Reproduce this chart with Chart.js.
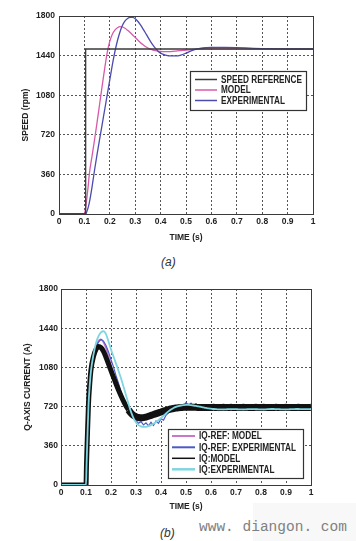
<!DOCTYPE html>
<html><head><meta charset="utf-8">
<script src="https://cdn.jsdelivr.net/npm/chart.js@4.4.1/dist/chart.umd.min.js"></script>
<style>
html,body{margin:0;padding:0;background:#fff;width:356px;height:541px;overflow:hidden;position:relative;}
#wrapA{position:absolute;left:0;top:0;width:356px;height:250px;}
#wrapB{position:absolute;left:0;top:265px;width:356px;height:250px;}
.cap{position:absolute;font-family:'Liberation Sans',Arial,sans-serif;font-style:italic;font-size:12px;color:#333;line-height:12px;}
#wmbg{position:absolute;left:253px;top:503px;width:103px;height:38px;background:#f8f8f8;}
#wm{position:absolute;left:199px;top:520px;font-family:'Liberation Mono','DejaVu Sans Mono',monospace;font-size:14.5px;color:#808080;line-height:15px;white-space:nowrap;}
</style></head>
<body>
<div id="wrapA"><canvas id="cA" width="356" height="250"></canvas></div>
<div class="cap" style="left:161px;top:256px;">(a)</div>
<div id="wmbg"></div>
<div id="wrapB"><canvas id="cB" width="356" height="250"></canvas></div>
<div class="cap" style="left:160px;top:527px;">(b)</div>
<div id="wm">www. diangon. com</div>
<script>
// ---------- DATA ----------
const xTickLabels = ['0','0.1','0.2','0.3','0.4','0.5','0.6','0.7','0.8','0.9','1'];
const yTickLabels = ['0','360','720','1080','1440','1800'];

// (a) speed
const tRef = [0, 0.105, 0.105, 1];
const speedRef = [0, 0, 1500, 1500];
const tSpeed = [0,0.1,0.105,0.11,0.115,
  0.12,0.13,0.14,0.15,0.16,0.17,0.18,0.19,0.2,0.21,0.22,0.23,0.24,0.25,0.26,0.27,0.28,0.29,0.3,0.31,0.32,0.33,0.34,0.35,0.36,0.37,0.38,0.39,0.4,
  0.42,0.44,0.46,0.48,0.5,0.52,0.54,0.56,0.58,0.6,
  0.65,0.7,0.75,0.8,0.85,0.9,0.95,1.0];
const speedModel = [0,0,60,150,255,
  375,525,675,835,1000,1165,1325,1470,1570,1635,1672,1693,1703,1700,1688,1670,1650,1628,1605,1582,1560,1540,1522,1508,1498,1490,1485,1481,1478,
  1476,1477,1481,1486,1491,1495,1498,1500,1501,1502,
  1502,1501,1500,1500,1500,1500,1500,1500];
const speedExp = [0,0,0,25,60,
  110,245,400,545,680,815,950,1085,1220,1355,1475,1575,1655,1715,1755,1778,1788,1787,1775,1752,1722,1686,1648,1608,1570,1535,1505,1480,1462,
  1445,1437,1437,1445,1462,1482,1498,1508,1512,1514,
  1514,1512,1508,1504,1502,1500,1500,1500];

// (b) q-axis current
const tIq = [0,0.1,0.102,0.105,0.11,0.115,
  0.12,0.13,0.14,0.15,0.16,0.17,0.18,0.19,
  0.2,0.21,0.22,0.23,0.24,0.25,0.26,0.27,0.28,0.29,
  0.3,0.31,0.32,0.33,0.34,0.35,0.36,0.37,0.38,0.39,
  0.4,0.41,0.42,0.43,0.44,0.45,0.46,0.47,0.48,0.49,
  0.5,0.51,0.52,0.53,0.54,0.55,0.56,0.57,0.58,0.59,
  0.6,0.61,0.62,0.63,0.64,0.65,0.66,0.67,0.68,0.69,
  0.7,0.71,0.72,0.73,0.74,0.75,0.76,0.77,0.78,0.79,
  0.8,0.81,0.82,0.83,0.84,0.85,0.86,0.87,0.88,0.89,
  0.9,0.91,0.92,0.93,0.94,0.95,0.96,0.97,0.98,0.99,1.0];
const iqRefModel = [0,0,200,420,760,940,
  1075,1200,1278,1325,1335,1310,1255,1180,
  1100,1020,950,885,828,775,728,692,662,641,
  628,620,617,619,624,631,639,647,655,663,
  670,678,685,692,698,703,707,710,712,713,
  714,714,714,713,713,712,712,712,712,712,
  712,713,712,711,712,713,712,712,713,712,
  712,711,712,713,712,712,711,712,713,712,
  712,713,712,711,712,712,713,712,711,712,
  713,712,712,711,712,713,712,712,711,712,713];
const iqRefExp = [0,0,150,370,700,900,
  1040,1185,1268,1312,1338,1322,1282,1222,
  1150,1085,1005,935,858,795,735,690,642,612,
  590,568,582,552,571,543,576,548,588,566,
  608,596,640,662,692,703,722,713,737,724,
  758,728,752,722,747,718,736,708,716,699,
  711,694,702,684,696,688,701,686,698,689,
  699,686,696,689,701,686,697,690,699,686,
  696,689,699,686,697,690,701,686,696,689,
  699,686,697,690,698,686,696,689,699,687,696];
const iqModel = [0,0,190,410,750,930,
  1060,1180,1245,1272,1262,1228,1172,1112,
  1050,990,930,873,820,770,725,690,660,640,
  628,620,617,619,624,631,639,647,655,663,
  670,678,685,692,698,703,707,710,712,713,
  714,714,714,713,713,712,712,712,712,712,
  712,713,712,711,712,713,712,712,713,712,
  712,711,712,713,712,712,711,712,713,712,
  712,713,712,711,712,712,713,712,711,712,
  713,712,712,711,712,713,712,712,711,712,713];
const iqExp = [0,0,170,390,730,920,
  1050,1200,1305,1368,1402,1412,1385,1318,
  1245,1180,1115,1050,980,905,825,745,672,615,
  575,550,538,533,534,540,550,563,578,596,
  615,636,657,676,693,707,717,725,730,733,
  735,735,733,730,726,722,717,712,708,704,
  701,698,696,695,694,694,695,696,697,697,
  696,695,694,694,695,696,697,697,696,695,
  694,694,695,697,698,698,697,696,695,694,
  694,695,696,697,698,698,697,696,696,697,698];

// ---------- HELPERS ----------
const FONT = "'Liberation Sans',Arial,sans-serif";
function xy(ts, vs){ return ts.map((t,i)=>({x:t, y:vs[i]})); }

const framePlugin = {
  id:'frame',
  afterDraw(chart){
    const {ctx, chartArea:a} = chart;
    ctx.save();
    ctx.strokeStyle = '#3a3a3a'; ctx.lineWidth = 1;
    ctx.strokeRect(Math.round(a.left)+0.5, Math.round(a.top)+0.5, Math.round(a.right-a.left), Math.round(a.bottom-a.top));
    ctx.restore();
  }
};
const boxLegend = {
  id:'boxLegend',
  afterDraw(chart, args, o){
    const ctx = chart.ctx;
    ctx.save();
    ctx.fillStyle = '#fff';
    ctx.fillRect(o.x, o.y, o.w, o.h);
    ctx.strokeStyle = '#333'; ctx.lineWidth = 1.2;
    ctx.strokeRect(o.x+0.5, o.y+0.5, o.w, o.h);
    ctx.font = o.font; ctx.textBaseline = 'middle'; ctx.textAlign = 'left';
    const k = Math.min(1, o.refWidth / ctx.measureText(o.refText).width);
    chart.data.datasets.forEach((ds,i)=>{
      const y = o.rows[i];
      ctx.strokeStyle = ds.borderColor; ctx.lineWidth = o.lw[i];
      ctx.beginPath(); ctx.moveTo(o.lx0, y); ctx.lineTo(o.lx1, y); ctx.stroke();
      ctx.save();
      ctx.translate(o.tx, y + 0.5); ctx.scale(k, 1);
      ctx.fillStyle = '#222';
      ctx.fillText(ds.label, 0, 0);
      ctx.restore();
    });
    ctx.restore();
  }
};

function makeOptions(L){
  return {
    responsive:false, animation:false,
    layout:{padding:{left:L.padLeft, right:L.padRight, top:L.padTop, bottom:0}},
    plugins:{legend:{display:false}, tooltip:{enabled:false}, boxLegend:L.legend},
    elements:{point:{radius:0}},
    scales:{
      x:{type:'linear', min:0, max:1,
        ticks:{stepSize:0.1, padding:3, color:'#222', font:{family:FONT, size:8.5, weight:'bold'},
          callback:(v,i)=>xTickLabels[i]},
        grid:{color:'#555', lineWidth:1, drawTicks:false},
        border:{display:false, dash:[2,2]},
        title:{display:true, text:'TIME (s)', color:'#222', font:{family:FONT, size:8.5, weight:'bold'}, padding:{top:0,bottom:L.xTitlePad}},
        afterFit:(s)=>{ s.height = L.xHeight; }
      },
      y:{type:'linear', min:0, max:1800,
        ticks:{stepSize:360, padding:L.yTickPad, color:'#222', font:{family:FONT, size:8.5, weight:'bold'},
          callback:(v,i)=>yTickLabels[i]},
        grid:{color:'#555', lineWidth:1, drawTicks:false},
        border:{display:false, dash:[2,2]},
        title:{display:true, text:L.yTitle, color:'#222', font:{family:FONT, size:8.5, weight:'bold'}, padding:{top:L.yTitlePad,bottom:0}},
        afterFit:(s)=>{ s.width = L.yWidth; }
      }
    }
  };
}

// ---------- CHART A ----------
new Chart(document.getElementById('cA'), {
  type:'line',
  data:{datasets:[
    {label:'SPEED REFERENCE', data:xy(tRef, speedRef), borderColor:'#3a3a3a', borderWidth:1.3, tension:0, order:0},
    {label:'MODEL', data:xy(tSpeed, speedModel), borderColor:'#d65aa8', borderWidth:1.3, cubicInterpolationMode:'monotone', order:2},
    {label:'EXPERIMENTAL', data:xy(tSpeed, speedExp), borderColor:'#4b4bb0', borderWidth:1.3, cubicInterpolationMode:'monotone', order:1}
  ]},
  options:makeOptions({padLeft:20, padRight:43, padTop:16, xHeight:36, yWidth:39, xTitlePad:7, yTitlePad:1, yTickPad:4,
    yTitle:'SPEED (rpm)',
    legend:{x:190, y:71, w:116, h:39, rows:[79.5,90,100.5], lw:[1.5,1.5,1.5], lx0:195, lx1:217, tx:221,
      font:"bold 10px "+FONT, refText:'SPEED REFERENCE', refWidth:81}}),
  plugins:[framePlugin, boxLegend]
});

// ---------- CHART B ----------
new Chart(document.getElementById('cB'), {
  type:'line',
  data:{datasets:[
    {label:'IQ-REF: MODEL', data:xy(tIq, iqRefModel), borderColor:'#c878c8', borderWidth:1.6, cubicInterpolationMode:'monotone', order:3},
    {label:'IQ-REF: EXPERIMENTAL', data:xy(tIq, iqRefExp), borderColor:'#4a5ac8', borderWidth:1.2, tension:0, order:2},
    {label:'IQ:MODEL', data:xy(tIq, iqModel), borderColor:'#111111', borderWidth:5, cubicInterpolationMode:'monotone', order:1,
      segment:{borderWidth:(c)=> c.p0.parsed.x >= 0.27 ? 7 : 5}},
    {label:'IQ:EXPERIMENTAL', data:xy(tIq, iqExp), borderColor:'#7fd6e0', borderWidth:1.8, cubicInterpolationMode:'monotone', order:0}
  ]},
  options:makeOptions({padLeft:20, padRight:45, padTop:24, xHeight:30, yWidth:41, xTitlePad:3, yTitlePad:3, yTickPad:3,
    yTitle:'Q-AXIS CURRENT (A)',
    legend:{x:168, y:164, w:135, h:49, rows:[171,182.3,193.3,204.3], lw:[2,2,1.5,2.5], lx0:172, lx1:195, tx:199,
      font:"bold 10px "+FONT, refText:'IQ-REF: EXPERIMENTAL', refWidth:97}}),
  plugins:[framePlugin, boxLegend]
});
</script>
</body></html>
